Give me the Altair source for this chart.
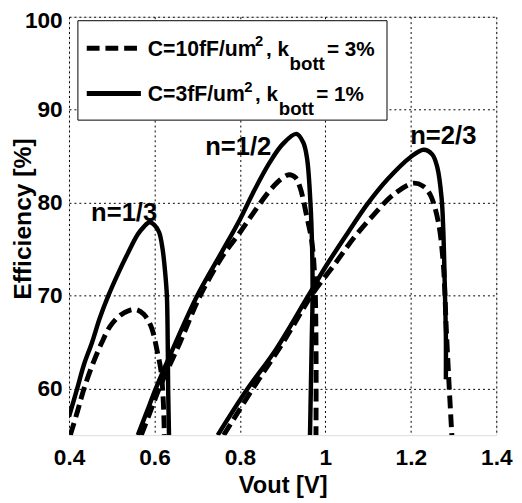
import altair as alt
import pandas as pd

# ---------------- data ----------------
x_ticks = [0.4, 0.6, 0.8, 1.0, 1.2, 1.4]
y_ticks = [60, 70, 80, 90, 100]

# n = 1/3
s13_x = [0.400, 0.419, 0.435, 0.454, 0.472, 0.492, 0.515, 0.538, 0.561, 0.575, 0.588, 0.600, 0.611, 0.619, 0.625, 0.629, 0.631, 0.632, 0.634]
s13_y = [57.0, 60.0, 62.6, 65.0, 67.6, 70.0, 72.4, 74.6, 76.6, 77.4, 77.9, 77.6, 76.8, 75.0, 72.5, 70.0, 65.0, 60.0, 55.0]
d13_x = [0.403, 0.420, 0.435, 0.455, 0.477, 0.496, 0.520, 0.540, 0.557, 0.575, 0.592, 0.607, 0.615, 0.619, 0.622, 0.623]
d13_y = [55.0, 57.6, 60.0, 62.6, 65.0, 66.7, 67.9, 68.4, 68.5, 68.0, 66.7, 63.9, 62.0, 60.0, 57.0, 55.0]

# n = 1/2
s12_x = [0.561, 0.582, 0.603, 0.650, 0.700, 0.760, 0.800, 0.830, 0.868, 0.900, 0.932, 0.948, 0.957, 0.965, 0.969, 0.970, 0.968, 0.966, 0.964]
s12_y = [55.0, 57.5, 60.0, 65.0, 70.0, 74.9, 78.2, 81.0, 84.2, 86.3, 87.4, 86.5, 84.8, 80.0, 75.0, 70.0, 65.0, 60.0, 55.0]
d12_x = [0.569, 0.590, 0.611, 0.660, 0.707, 0.760, 0.800, 0.830, 0.868, 0.895, 0.915, 0.930, 0.941, 0.957, 0.968, 0.975, 0.978, 0.978]
d12_y = [55.0, 57.5, 60.0, 65.0, 70.0, 74.3, 76.8, 78.8, 81.2, 82.5, 83.0, 82.7, 81.6, 78.4, 75.9, 72.0, 65.0, 55.0]

# n = 2/3
s23_x = [0.748, 0.815, 0.884, 0.960, 1.003, 1.053, 1.099, 1.145, 1.199, 1.230, 1.250, 1.262, 1.272, 1.276, 1.280, 1.282, 1.282]
s23_y = [55.0, 59.8, 64.2, 70.0, 73.3, 76.8, 79.9, 82.5, 84.9, 85.7, 85.2, 83.8, 80.5, 77.0, 70.0, 65.7, 61.0]
d23_x = [0.762, 0.830, 0.900, 0.970, 1.022, 1.068, 1.114, 1.160, 1.206, 1.228, 1.245, 1.264, 1.276, 1.283, 1.290, 1.296]
d23_y = [55.0, 60.0, 64.9, 70.2, 73.4, 76.3, 78.75, 80.9, 82.1, 81.8, 80.9, 78.0, 73.4, 66.4, 60.0, 55.0]

ann_text = ["n=1/3", "n=1/2", "n=2/3"]
ann_x = [0.529, 0.796, 1.276]
ann_y = [78.0, 85.1, 86.3]

FONT = "Liberation Sans"


def frame(xs, ys, name):
    return pd.DataFrame({"vout": xs, "eff": ys, "curve": name, "idx": list(range(len(xs)))})


solid_df = pd.concat([frame(s13_x, s13_y, "1/3"), frame(s12_x, s12_y, "1/2"), frame(s23_x, s23_y, "2/3")])
dashed_df = pd.concat([frame(d13_x, d13_y, "1/3"), frame(d12_x, d12_y, "1/2"), frame(d23_x, d23_y, "2/3")])
ann_df = pd.DataFrame({"vout": ann_x, "eff": ann_y, "label": ann_text})

x_scale = alt.Scale(domain=[0.4, 1.4], nice=False, zero=False)
y_scale = alt.Scale(domain=[55, 100], nice=False, zero=False)

x_axis = alt.Axis(
    values=x_ticks, format="~g", title="Vout [V]", grid=True, ticks=False, domain=False,
    labelFlush=False, labelOverlap=False,
    labelFont=FONT, labelFontSize=23, labelFontWeight="bold", labelColor="black",
    labelBaseline="alphabetic", labelPadding=30,
    titleFont=FONT, titleFontSize=24, titleFontWeight="bold", titleColor="black",
    titleBaseline="alphabetic", titleY=58, titleX=217,
    gridColor="black", gridDash=[2, 3], gridOpacity=1, gridWidth=1,
)
y_axis = alt.Axis(
    values=y_ticks, title="Efficiency [%]", grid=True, ticks=False, domain=False,
    labelFlush=False, labelOverlap=False,
    labelFont=FONT, labelFontSize=23, labelFontWeight="bold", labelColor="black",
    labelPadding=7, labelBaseline="middle",
    labelOffset=alt.condition("datum.value == 100", alt.value(4), alt.value(0)),
    titleFont=FONT, titleFontSize=25, titleFontWeight="bold", titleColor="black",
    titleAngle=270, titleBaseline="alphabetic", titleX=-39, titleY=205, titleAlign="center",
    gridColor="black", gridDash=[2, 3], gridOpacity=1, gridWidth=1,
)

X = alt.X("vout:Q", scale=x_scale, axis=x_axis)
Y = alt.Y("eff:Q", scale=y_scale, axis=y_axis)

solid = alt.Chart(solid_df).mark_line(
    color="black", strokeWidth=4.5, interpolate="catmull-rom", clip=True
).encode(x=X, y=Y, detail="curve:N", order="idx:Q")

dashed = alt.Chart(dashed_df).mark_line(
    color="black", strokeWidth=5, strokeDash=[13, 6], interpolate="catmull-rom", clip=True
).encode(x=X, y=Y, detail="curve:N", order="idx:Q")

ann = alt.Chart(ann_df).mark_text(
    font=FONT, fontSize=26, fontWeight="bold", color="black", align="center", baseline="alphabetic"
).encode(x=X, y=Y, text="label:N")

# ---------------- legend (drawn inside the plot area) ----------------
one = pd.DataFrame({"a": [0]})
box = alt.Chart(one).mark_rect(fill="white", stroke="black", strokeWidth=1).encode(
    x=alt.value(9), x2=alt.value(323), y=alt.value(4), y2=alt.value(105)
)
leg_dash = alt.Chart(one).mark_rule(color="black", strokeWidth=5, strokeDash=[13, 6]).encode(
    x=alt.value(18), x2=alt.value(73), y=alt.value(32)
)
leg_solid = alt.Chart(one).mark_rule(color="black", strokeWidth=5).encode(
    x=alt.value(18), x2=alt.value(73), y=alt.value(78)
)


def piece(text, px, py, size):
    return alt.Chart(one).mark_text(
        text=text, font=FONT, fontSize=size, fontWeight="bold", color="black",
        align="left", baseline="alphabetic"
    ).encode(x=alt.value(px), y=alt.value(py))


row1 = 40
row2 = 86
legend_texts = [
    piece("C=10fF/um", 80, row1, 21.5),
    piece("2", 189, row1 - 10, 15),
    piece(", k", 200, row1, 21),
    piece("bott", 224, row1 + 14, 19),
    piece("= 3%", 262, row1, 21),
    piece("C=3fF/um", 80, row2, 21.5),
    piece("2", 178, row2 - 10, 15),
    piece(", k", 189, row2, 21),
    piece("bott", 213, row2 + 14, 19),
    piece("= 1%", 251, row2, 21),
]

chart = alt.layer(solid, dashed, ann, box, leg_dash, leg_solid, *legend_texts).properties(
    width=434, height=425,
    autosize=alt.AutoSizeParams(type="none"),
    padding={"left": 62, "top": 5, "right": 18, "bottom": 64},
).configure_view(stroke="black", strokeWidth=1.2).configure(background="white")

chart.save("out.html", embed_options={"renderer": "svg", "actions": False})
